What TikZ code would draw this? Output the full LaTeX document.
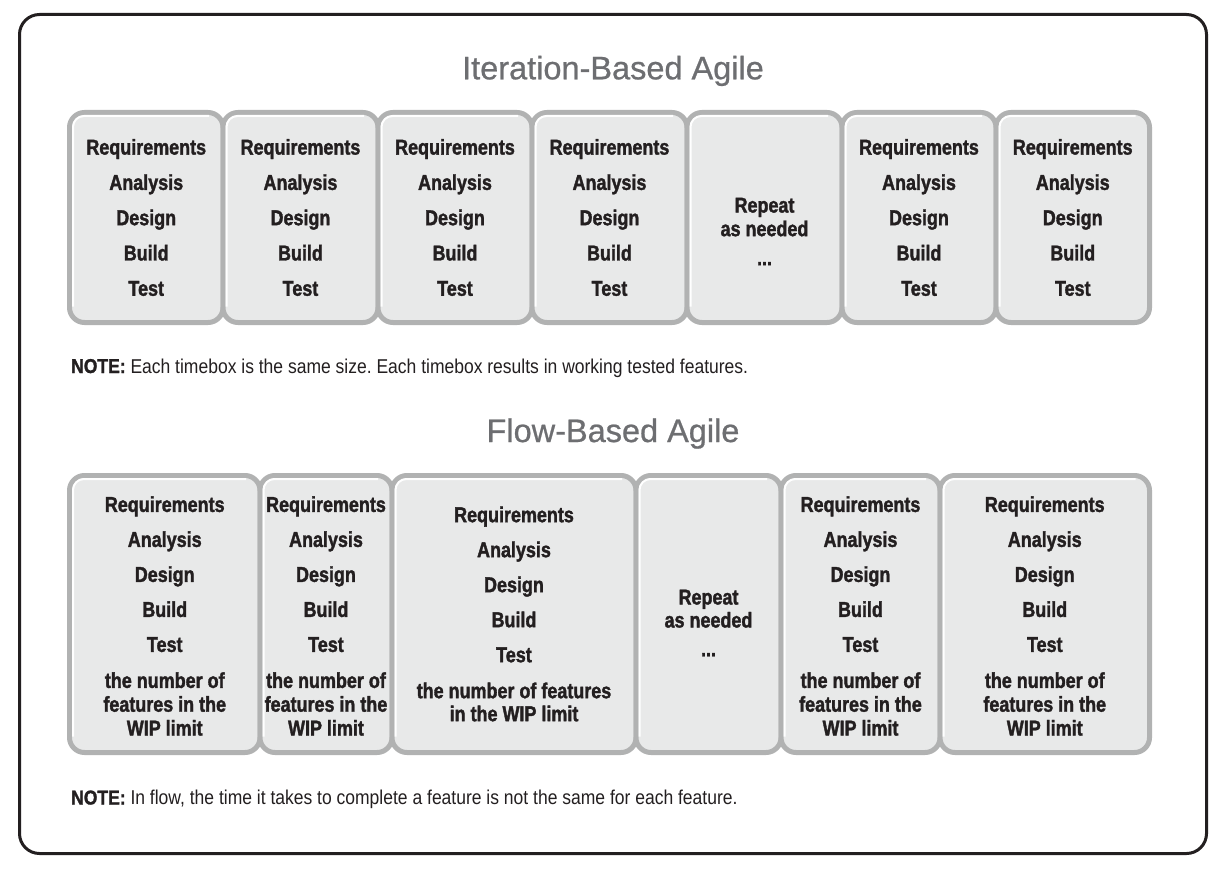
\documentclass[tikz,border=0pt]{standalone}
\usepackage{fontspec}
\newfontfamily\boxfont[FakeStretch=0.835, BoldFeatures={FakeBold=1.6}]{Liberation Sans}
\newfontfamily\notefont[FakeStretch=0.875, BoldFeatures={FakeBold=1.4}]{Liberation Sans}
\newfontfamily\headfont[FakeBold=0.7]{Liberation Sans}
\definecolor{ink}{HTML}{231F20}
\definecolor{headgray}{HTML}{6D6E71}
\definecolor{boxfill}{HTML}{E8E9E9}
\definecolor{boxedge}{HTML}{B1B2B2}

% one timebox: name, x1, y1, x2, y2, text shift, text
\newcommand\agilebox[7]{%
  \path[tbox] (#2,#3) rectangle (#4,#5);
  \draw[hilite] (#2+3.5,#5-16) -- (#2+3.5,#3+3.5) -- (#4-14,#3+3.5);
  \node[boxtext, yshift=#6] (#1) at ({(#2+#4)/2},{(#3+#5)/2}) {#7};
}

\begin{document}
\frenchspacing
\begin{tikzpicture}[x=1pt,y=-1pt,
  frame/.style={draw=ink, line width=3pt, rounded corners=20pt},
  title/.style={font=\headfont\fontsize{32.5}{36}\selectfont, text=headgray, inner sep=0pt, anchor=base},
  tbox/.style={fill=boxfill, draw=boxedge, line width=5pt, rounded corners=15pt},
  hilite/.style={draw=white, line width=2pt, rounded corners=11pt},
  basetext/.style={text=ink, align=center, inner sep=0pt},
  itertext/.style={basetext, font=\boxfont\bfseries\fontsize{21.5}{35.3}\selectfont},
  flowtext/.style={basetext, font=\boxfont\bfseries\fontsize{21.5}{23.8}\selectfont},
  boxtext/.style={itertext},
  note/.style={font=\notefont\fontsize{20}{24}\selectfont, text=ink, inner sep=0pt, anchor=base west}]
\useasboundingbox (0,0) rectangle (1225,869);
\fill[white] (0,0) rectangle (1225,869);

% outer frame
\draw[frame] (19.5,14.5) rectangle (1206.5,853.5);

% ---------- iteration-based ----------
\node[title] (t1) at (613,79.3) {Iteration-Based Agile};

\def\steps{Requirements\\Analysis\\Design\\Build\\Test}
\agilebox{i1}{69.5}{112.5}{223}{322.5}{0pt}{\steps}
\agilebox{i2}{223}{112.5}{378}{322.5}{0pt}{\steps}
\agilebox{i3}{378}{112.5}{532}{322.5}{0pt}{\steps}
\agilebox{i4}{532}{112.5}{687}{322.5}{0pt}{\steps}
\path[tbox] (687,112.5) rectangle (842,322.5);
\draw[hilite] (690.5,306.5) -- (690.5,116) -- (828,116);
\node[flowtext, font=\boxfont\bfseries\fontsize{21.5}{23.6}\selectfont, yshift=-14pt] (i5) at (764.5,217.5) {Repeat\\as needed\\[5.5pt]...};
\agilebox{i6}{842}{112.5}{996}{322.5}{0pt}{\steps}
\agilebox{i7}{996}{112.5}{1149.5}{322.5}{0pt}{\steps}

\node[note] (n1) at (71,373) {\bfseries NOTE:\mdseries{} Each timebox is the same size. Each timebox results in working tested features.};

% ---------- flow-based ----------
\node[title] (t2) at (613,442) {Flow-Based Agile};

\tikzset{boxtext/.style={flowtext}}
\def\fsteps{Requirements\\[11.2pt]Analysis\\[11.2pt]Design\\[11.2pt]Build\\[11.2pt]Test\\[12.2pt]the number of\\features in the\\WIP limit}
\agilebox{f1}{69.5}{475.5}{260}{752.5}{-2pt}{\fsteps}
\agilebox{f2}{260}{475.5}{392}{752.5}{-2pt}{\fsteps}
\agilebox{f3}{392}{475.5}{636}{752.5}{0pt}{Requirements\\[11.2pt]Analysis\\[11.2pt]Design\\[11.2pt]Build\\[11.2pt]Test\\[12.2pt]the number of features\\[-0.8pt]in the WIP limit}
\agilebox{f4}{636}{475.5}{781}{752.5}{-9pt}{Repeat\\[-0.8pt]as needed\\[5pt]...}
\agilebox{f5}{781}{475.5}{940}{752.5}{-2pt}{\fsteps}
\agilebox{f6}{940}{475.5}{1149.5}{752.5}{-2pt}{\fsteps}

\node[note] (n2) at (71,804.5) {\bfseries NOTE:\mdseries{} In flow, the time it takes to complete a feature is not the same for each feature.};
\end{tikzpicture}
\end{document}
